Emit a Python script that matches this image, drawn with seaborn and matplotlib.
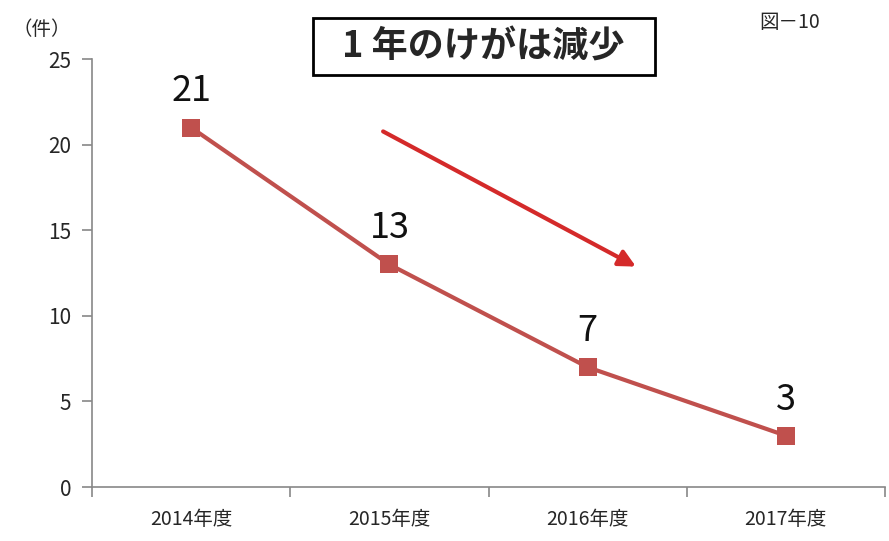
import matplotlib.pyplot as plt
import seaborn as sns
import pandas as pd
from matplotlib.patches import Rectangle

# 年度ごとのけが件数
years = ['2014年度', '2015年度', '2016年度', '2017年度']
injuries = [21, 13, 7, 3]

sns.set_style('white')
plt.rcParams['font.family'] = ['Noto Sans CJK JP', 'DejaVu Sans']

df = pd.DataFrame({'年度': years, '件数': injuries})

fig = plt.figure(figsize=(8.89, 5.41), dpi=100)
ax = fig.add_axes([0.1035, 0.0998, 0.892, 0.791])

sns.lineplot(data=df, x='年度', y='件数', ax=ax, color='#c0504d', linewidth=3,
             marker='s', markersize=13, markeredgewidth=0, sort=False)

for i, v in enumerate(injuries):
    ax.annotate(str(v), (i, v), xytext=(0, 13), textcoords='offset points',
                ha='center', va='bottom', fontsize=26, color='#111111')

ax.set_xlim(-0.5, 3.5)
ax.set_ylim(0, 25)
ax.set_yticks([0, 5, 10, 15, 20, 25])
ax.set_xticks([-0.5, 0.5, 1.5, 2.5, 3.5], minor=False)
ax.set_xticklabels([])
ax.set_xticks([0, 1, 2, 3], minor=True)
ax.set_xticklabels(years, minor=True)
ax.tick_params(axis='x', which='major', bottom=True, direction='out', length=7,
               width=1.2, color='#888888')
ax.tick_params(axis='x', which='minor', bottom=True, length=0, pad=16, labelsize=14)
ax.tick_params(axis='y', left=True, direction='out', length=7, width=1.2,
               color='#888888', labelsize=15, pad=8)
ax.set_xlabel('')
ax.set_ylabel('')

for s in ['top', 'right']:
    ax.spines[s].set_visible(False)
for s in ['left', 'bottom']:
    ax.spines[s].set_color('#888888')
    ax.spines[s].set_linewidth(1.2)

# 減少を示す矢印
ax.annotate('', xy=(0.689, 0.512), xytext=(0.364, 0.834), xycoords='axes fraction',
            arrowprops=dict(arrowstyle='-|>,head_length=1.0,head_width=0.5',
                            color='#d42a2a', lw=3))

# タイトル枠
fig.patches.append(Rectangle((0.352, 0.861), 0.385, 0.105, transform=fig.transFigure,
                             fc='white', ec='black', lw=2, zorder=5))
fig.text(0.544, 0.913, '1 年のけがは減少', ha='center', va='center', fontsize=26,
         fontweight='bold', zorder=6)
fig.text(0.888, 0.958, '図－10', ha='center', va='center', fontsize=14)
fig.text(0.047, 0.945, '（件）', ha='center', va='center', fontsize=14)

fig.savefig('out.png', dpi=100)
